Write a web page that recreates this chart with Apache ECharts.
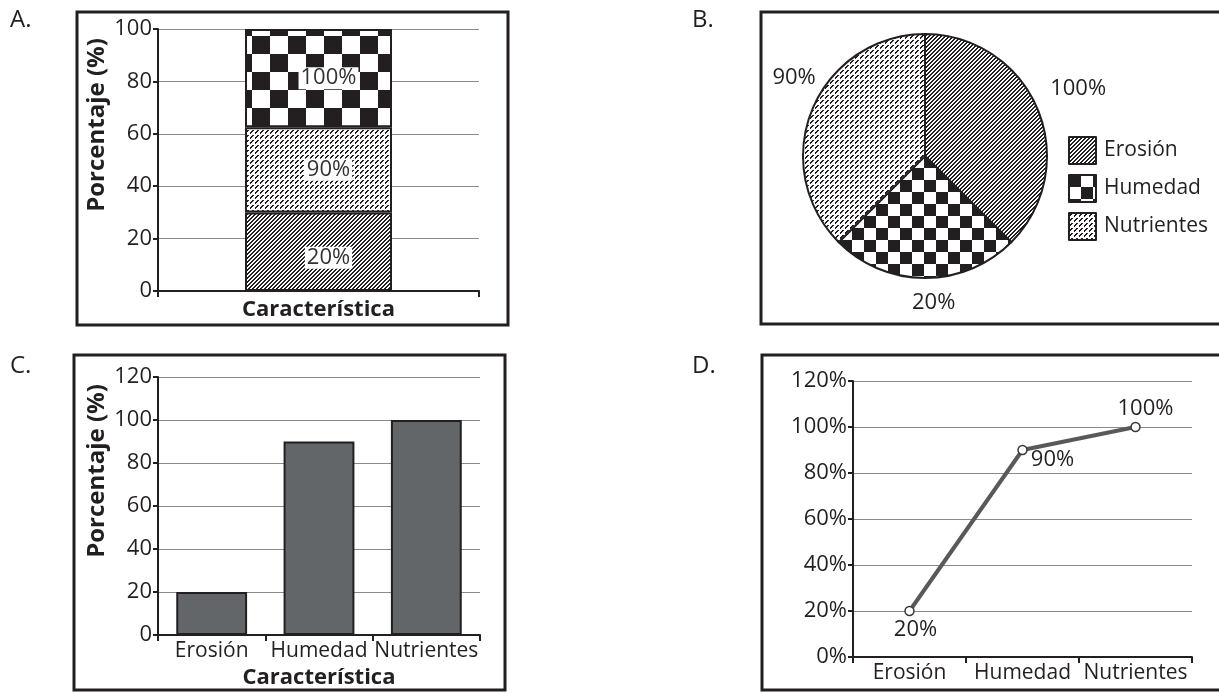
<!DOCTYPE html>
<html>
<head>
<meta charset="utf-8">
<script src="https://cdn.jsdelivr.net/npm/echarts@6/dist/echarts.min.js"></script>
<style>
html,body{margin:0;padding:0;background:#fff;}
#chart{width:1219px;height:693px;}
</style>
</head>
<body>
<div id="chart"></div>
<script>
// ---------- data ----------
const categories = ['Erosión', 'Humedad', 'Nutrientes'];
const percentValues = [20, 90, 100];            // panels C and D
const percentLabels = ['20%', '90%', '100%'];   // panel D labels
// panel A: stacked column (bottom to top)
const stackNames = ['Erosión', 'Nutrientes', 'Humedad'];
const stackHeights = [30, 32.5, 37.5];
const stackLabels = ['20%', '90%', '100%'];
// panel B: pie (clockwise from 12 o'clock)
const pieNames = ['Erosión', 'Humedad', 'Nutrientes'];
const pieShares = [37.5, 25, 37.5];
const pieLabels = ['100%', '20%', '90%'];
const panelLetters = ['A.', 'B.', 'C.', 'D.'];

// ---------- patterns ----------
const INK = '#231f20';
function pattern(size, fn) {
  const c = document.createElement('canvas');
  c.width = size; c.height = size;
  const ctx = c.getContext('2d');
  ctx.fillStyle = '#fff'; ctx.fillRect(0, 0, size, size);
  ctx.fillStyle = INK;
  for (let y = 0; y < size; y++) for (let x = 0; x < size; x++) if (fn(x, y)) ctx.fillRect(x, y, 1, 1);
  return { image: c, repeat: 'repeat' };
}
const hatch = pattern(8, (x, y) => (x + y) % 4 < 2);
const dots = pattern(5, (x, y) => (x + y === 2 || x + y === 3) && x <= 3 && y <= 3);
function checker(s) {
  return pattern(2 * s, (x, y) => (Math.floor(x / s) + Math.floor(y / s)) % 2 === 0);
}
const checkBig = checker(18);
const checkSmall = checker(12);
const stackFills = { 'Erosión': hatch, 'Nutrientes': dots, 'Humedad': checkBig };
const pieFills = { 'Erosión': hatch, 'Humedad': checkSmall, 'Nutrientes': dots };

const FONT = 'Open Sans';
const tickFont = { fontFamily: FONT, fontSize: 22, color: INK };
const nameFont = { fontFamily: FONT, fontSize: 22, fontWeight: 'bold', color: INK };

function valueAxis(gridIndex, max, fmt, name) {
  return {
    type: 'value', gridIndex, min: 0, max, interval: 20,
    axisLine: { show: true, lineStyle: { color: INK, width: 2 } },
    axisTick: { show: true, length: 5, lineStyle: { color: INK, width: 2 } },
    axisLabel: Object.assign({ margin: 6, formatter: fmt }, tickFont),
    splitLine: { show: true, lineStyle: { color: '#8a8a8a', width: 1 } },
    name: name || '', nameLocation: 'middle', nameGap: 49,
    nameTextStyle: Object.assign({}, nameFont, { fontSize: 24, padding: [0, 0, 0, 70] })
  };
}
function catAxis(gridIndex, data, name, nameGap, showLabels) {
  return {
    type: 'category', gridIndex, data,
    axisLine: { show: true, lineStyle: { color: INK, width: 2 } },
    axisTick: { show: true, length: 6, lineStyle: { color: INK, width: 2 } },
    axisLabel: Object.assign({ show: showLabels, margin: 6, interval: 0 }, tickFont, { fontSize: 21 }),
    splitLine: { show: false },
    name: name || '', nameLocation: 'middle', nameGap,
    nameTextStyle: nameFont
  };
}

const graphic = [
  { type: 'rect', shape: { x: 77, y: 12, width: 431, height: 313 }, style: { fill: 'none', stroke: INK, lineWidth: 3 } },
  { type: 'rect', shape: { x: 761, y: 12, width: 470, height: 312 }, style: { fill: 'none', stroke: INK, lineWidth: 3 } },
  { type: 'rect', shape: { x: 74, y: 355, width: 431, height: 335 }, style: { fill: 'none', stroke: INK, lineWidth: 3 } },
  { type: 'rect', shape: { x: 762, y: 355, width: 470, height: 335 }, style: { fill: 'none', stroke: INK, lineWidth: 3 } }
];
const letterPos = [[10, 8], [692, 8], [10, 354], [692, 354]];
panelLetters.forEach((t, i) => graphic.push({
  type: 'text', x: letterPos[i][0], y: letterPos[i][1],
  style: { text: t, font: '24px "Open Sans"', fill: INK }
}));

const series = [];
stackNames.forEach((n, i) => series.push({
  type: 'bar', name: 'A ' + n, xAxisIndex: 0, yAxisIndex: 0, stack: 'A',
  barWidth: 147, data: [stackHeights[i]],
  itemStyle: { color: stackFills[n], borderColor: INK, borderWidth: 2 },
  label: {
    show: true, position: 'inside', formatter: stackLabels[i],
    fontFamily: FONT, fontSize: 22, color: '#333', backgroundColor: '#fff',
    padding: [0, 2, 0, 2], offset: [10, i === 0 ? 6 : 0]
  }
}));
const pieLabelShift = [[-11, -13], [-18, 5], [27, -24]];
series.push({
  type: 'pie', name: 'B', center: [925, 156], radius: 122, startAngle: 90, clockwise: true,
  data: pieNames.map((n, i) => ({ name: n, value: pieShares[i], itemStyle: { color: pieFills[n] } })),
  itemStyle: { borderColor: INK, borderWidth: 2 },
  label: { show: true, position: 'outside', formatter: p => pieLabels[p.dataIndex], fontFamily: FONT, fontSize: 22, color: INK },
  labelLine: { show: false, length: 20, length2: 0 },
  labelLayout: p => ({ dx: pieLabelShift[p.dataIndex][0], dy: pieLabelShift[p.dataIndex][1] }),
  emphasis: { disabled: true }
});
series.push({
  type: 'bar', name: 'C', xAxisIndex: 1, yAxisIndex: 1, barCategoryGap: '34%',
  data: percentValues,
  itemStyle: { color: '#636669', borderColor: INK, borderWidth: 2 }
});
const dOffsets = [[6, 19], [30, 10], [10, -18]];
series.push({
  type: 'line', name: 'D', xAxisIndex: 2, yAxisIndex: 2,
  data: percentValues.map((v, i) => ({
    value: v,
    label: { show: true, position: 'inside', offset: dOffsets[i], formatter: percentLabels[i] }
  })),
  lineStyle: { color: '#58595b', width: 4 },
  symbol: 'circle', symbolSize: 9,
  itemStyle: { color: '#fff', borderColor: '#3a3a3a', borderWidth: 1.5 },
  label: { fontFamily: FONT, fontSize: 22, color: INK }
});

const option = {
  animation: false,
  textStyle: { fontFamily: FONT },
  graphic,
  grid: [
    { left: 158, top: 29, width: 321, height: 262 },
    { left: 158, top: 377, width: 322, height: 258 },
    { left: 853, top: 381, width: 339, height: 276 }
  ],
  xAxis: [
    catAxis(0, [''], 'Característica', 8, false),
    catAxis(1, categories, 'Característica', 32, true),
    catAxis(2, categories, '', 0, true)
  ],
  yAxis: [
    valueAxis(0, 100, '{value}', 'Porcentaje (%)'),
    valueAxis(1, 120, '{value}', 'Porcentaje (%)'),
    valueAxis(2, 120, '{value}%', '')
  ],
  legend: {
    data: pieNames, orient: 'vertical', left: 1063, top: 131,
    itemWidth: 27, itemHeight: 27, itemGap: 9, icon: 'rect',
    itemStyle: { borderColor: INK, borderWidth: 2 },
    textStyle: { fontFamily: FONT, fontSize: 21, color: INK, padding: [0, 0, 0, 3] },
    selectedMode: false
  },
  series
};
const chart = echarts.init(document.getElementById('chart'), null, { renderer: 'canvas' });
chart.setOption(option);
</script>
</body>
</html>
